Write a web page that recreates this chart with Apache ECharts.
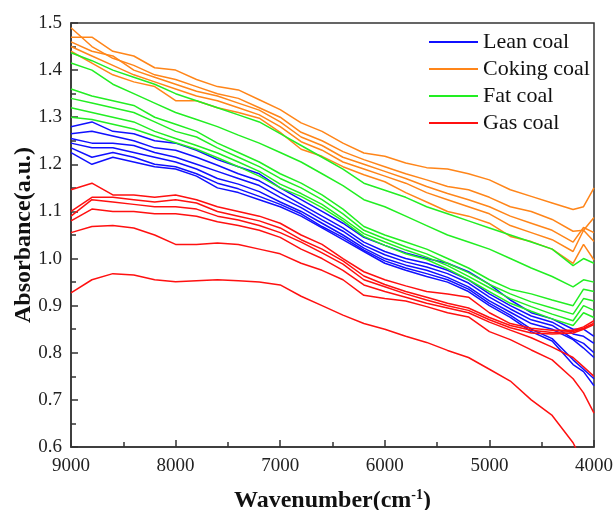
<!DOCTYPE html>
<html><head><meta charset="utf-8">
<script src="https://cdn.jsdelivr.net/npm/echarts@6/dist/echarts.min.js"></script>
<style>html,body{margin:0;padding:0;background:#fff}#c{width:616px;height:510px}</style>
</head><body><div id="c"></div>
<script>
// Wavenumber sample positions (cm-1)
const wavenumbers = [9000, 8800, 8600, 8400, 8200, 8000, 7800, 7600, 7400, 7200, 7000, 6800, 6600, 6400, 6200, 6000, 5800, 5600, 5400, 5200, 5000, 4800, 4600, 4400, 4200, 4100, 4000];

const categories = ['Lean coal', 'Coking coal', 'Fat coal', 'Gas coal'];

const leanCoal = [
  [1.28, 1.29, 1.27, 1.265, 1.25, 1.245, 1.23, 1.21, 1.195, 1.18, 1.15, 1.125, 1.10, 1.075, 1.045, 1.028, 1.012, 1.0, 0.99, 0.972, 0.945, 0.912, 0.885, 0.872, 0.85, 0.85, 0.835],
  [1.265, 1.27, 1.26, 1.25, 1.235, 1.23, 1.215, 1.198, 1.18, 1.165, 1.14, 1.115, 1.09, 1.065, 1.035, 1.015, 1.0, 0.99, 0.975, 0.955, 0.925, 0.9, 0.878, 0.865, 0.84, 0.835, 0.82],
  [1.255, 1.245, 1.245, 1.24, 1.225, 1.215, 1.2, 1.185, 1.17, 1.155, 1.13, 1.108, 1.082, 1.058, 1.028, 1.008, 0.993, 0.982, 0.968, 0.948, 0.918, 0.893, 0.87, 0.858, 0.83, 0.82, 0.80],
  [1.245, 1.235, 1.235, 1.225, 1.215, 1.205, 1.19, 1.17, 1.158, 1.142, 1.12, 1.1, 1.075, 1.05, 1.022, 1.0, 0.986, 0.975, 0.96, 0.94, 0.91, 0.886, 0.862, 0.85, 0.828, 0.81, 0.79],
  [1.235, 1.215, 1.225, 1.215, 1.2, 1.195, 1.18, 1.16, 1.148, 1.132, 1.115, 1.095, 1.068, 1.045, 1.018, 0.995, 0.98, 0.968, 0.955, 0.935, 0.905, 0.88, 0.85, 0.83, 0.785, 0.765, 0.745],
  [1.225, 1.2, 1.215, 1.205, 1.195, 1.19, 1.175, 1.15, 1.14, 1.125, 1.11, 1.09, 1.065, 1.04, 1.015, 0.99, 0.975, 0.962, 0.95, 0.93, 0.9, 0.875, 0.845, 0.825, 0.775, 0.76, 0.73]
];

const cokingCoal = [
  [1.47, 1.47, 1.44, 1.43, 1.405, 1.40, 1.38, 1.365, 1.358, 1.337, 1.316, 1.288, 1.27, 1.245, 1.224, 1.217, 1.203, 1.193, 1.19, 1.18, 1.167, 1.146, 1.132, 1.118, 1.104, 1.11, 1.15],
  [1.49, 1.45, 1.425, 1.41, 1.39, 1.38, 1.365, 1.35, 1.34, 1.32, 1.30, 1.268, 1.25, 1.227, 1.21, 1.195, 1.18, 1.167, 1.153, 1.146, 1.13, 1.11, 1.10, 1.083, 1.058, 1.06, 1.087],
  [1.46, 1.44, 1.43, 1.40, 1.385, 1.37, 1.355, 1.345, 1.33, 1.315, 1.29, 1.258, 1.24, 1.215, 1.20, 1.185, 1.17, 1.153, 1.138, 1.125, 1.11, 1.09, 1.075, 1.06, 1.035, 1.066, 1.055],
  [1.45, 1.43, 1.41, 1.39, 1.375, 1.36, 1.345, 1.335, 1.32, 1.305, 1.28, 1.248, 1.23, 1.205, 1.19, 1.175, 1.16, 1.14, 1.125, 1.11, 1.095, 1.07, 1.055, 1.04, 1.015, 1.06, 1.036],
  [1.44, 1.415, 1.39, 1.375, 1.365, 1.335, 1.335, 1.32, 1.31, 1.298, 1.268, 1.232, 1.217, 1.195, 1.178, 1.163, 1.14, 1.12, 1.10, 1.09, 1.075, 1.047, 1.036, 1.02, 0.99, 1.03, 0.997]
];

const fatCoal = [
  [1.437, 1.42, 1.40, 1.385, 1.37, 1.35, 1.335, 1.32, 1.305, 1.29, 1.265, 1.24, 1.215, 1.19, 1.16, 1.145, 1.13, 1.11, 1.095, 1.08, 1.065, 1.05, 1.035, 1.02, 0.985, 1.0, 0.99],
  [1.415, 1.40, 1.37, 1.35, 1.33, 1.31, 1.295, 1.28, 1.262, 1.245, 1.225, 1.205, 1.18, 1.155, 1.125, 1.11, 1.09, 1.07, 1.05, 1.035, 1.02, 1.0, 0.98, 0.962, 0.94, 0.955, 0.95],
  [1.36, 1.345, 1.335, 1.325, 1.30, 1.285, 1.27, 1.245, 1.225, 1.205, 1.18, 1.16, 1.135, 1.105, 1.068, 1.05, 1.035, 1.02, 1.0, 0.98, 0.955, 0.935, 0.925, 0.912, 0.9, 0.935, 0.93],
  [1.34, 1.33, 1.32, 1.31, 1.29, 1.27, 1.258, 1.235, 1.215, 1.195, 1.17, 1.15, 1.125, 1.095, 1.06, 1.042, 1.025, 1.01, 0.99, 0.97, 0.945, 0.925, 0.908, 0.895, 0.882, 0.915, 0.91],
  [1.32, 1.31, 1.30, 1.29, 1.27, 1.255, 1.24, 1.224, 1.205, 1.185, 1.158, 1.138, 1.115, 1.085, 1.053, 1.035, 1.018, 1.003, 0.985, 0.962, 0.938, 0.915, 0.898, 0.882, 0.868, 0.9, 0.89],
  [1.30, 1.295, 1.285, 1.275, 1.26, 1.246, 1.232, 1.214, 1.195, 1.175, 1.15, 1.132, 1.108, 1.08, 1.047, 1.028, 1.01, 0.998, 0.978, 0.955, 0.93, 0.905, 0.888, 0.872, 0.858, 0.885, 0.875]
];

const gasCoal = [
  [1.146, 1.16, 1.135, 1.135, 1.13, 1.135, 1.125, 1.11, 1.10, 1.09, 1.075, 1.05, 1.03, 1.0, 0.972, 0.955, 0.942, 0.93, 0.925, 0.918, 0.885, 0.862, 0.852, 0.848, 0.848, 0.855, 0.868],
  [1.10, 1.13, 1.13, 1.125, 1.12, 1.125, 1.118, 1.10, 1.09, 1.08, 1.065, 1.04, 1.02, 0.995, 0.963, 0.945, 0.93, 0.918, 0.905, 0.895, 0.875, 0.858, 0.848, 0.843, 0.845, 0.852, 0.863],
  [1.09, 1.125, 1.12, 1.115, 1.11, 1.11, 1.105, 1.09, 1.082, 1.07, 1.055, 1.035, 1.012, 0.988, 0.955, 0.94, 0.925, 0.912, 0.9, 0.89, 0.87, 0.853, 0.842, 0.84, 0.842, 0.85, 0.86],
  [1.08, 1.105, 1.10, 1.10, 1.095, 1.095, 1.09, 1.078, 1.07, 1.06, 1.045, 1.02, 1.0, 0.975, 0.944, 0.93, 0.918, 0.905, 0.895, 0.885, 0.865, 0.848, 0.832, 0.812, 0.79, 0.77, 0.75],
  [1.055, 1.068, 1.07, 1.065, 1.05, 1.03, 1.03, 1.033, 1.03, 1.02, 1.01, 0.99, 0.975, 0.955, 0.922, 0.915, 0.91, 0.898, 0.885, 0.876, 0.845, 0.828, 0.806, 0.785, 0.745, 0.715, 0.672],
  [0.927, 0.955, 0.968, 0.965, 0.955, 0.951, 0.953, 0.955, 0.953, 0.95, 0.944, 0.92, 0.9, 0.88, 0.862, 0.85, 0.835, 0.822, 0.805, 0.79, 0.765, 0.74, 0.70, 0.667, 0.609, 0.565, null]
];

const xRange = [4000, 9000, 1000];
const yRange = [0.6, 1.5, 0.1];

const colors = ['#1010ff', '#ff8519', '#22ee22', '#ff1010'];
const groups = [leanCoal, cokingCoal, fatCoal, gasCoal];

const FONT = 'Liberation Serif';
const series = [];
groups.forEach((lines, gi) => {
  lines.forEach(vals => {
    series.push({
      type: 'line',
      name: categories[gi],
      data: wavenumbers.map((w, i) => [w, vals[i]]).filter(p => p[1] !== null),
      symbol: 'none',
      showSymbol: false,
      clip: true,
      silent: true,
      lineStyle: { width: 1.5, color: colors[gi] },
      itemStyle: { color: colors[gi] }
    });
  });
});

const chart = echarts.init(document.getElementById('c'), null, { renderer: 'canvas' });
const axisCol = '#333';
chart.setOption({
  animation: false,
  backgroundColor: '#fff',
  grid: { left: 71, right: 22, top: 23, bottom: 63, containLabel: false, outerBoundsMode: 'none', show: true, borderColor: axisCol, borderWidth: 1.5, backgroundColor: 'transparent' },
  legend: {
    orient: 'vertical', left: 429, top: 31, padding: 0,
    itemWidth: 49, itemHeight: 2, icon: 'rect', itemGap: 5,
    textStyle: { fontFamily: FONT, fontSize: 22, color: '#111' },
    data: categories
  },
  xAxis: {
    type: 'value', min: xRange[0], max: xRange[1], interval: xRange[2], inverse: true,
    axisLine: { show: true, lineStyle: { color: axisCol, width: 1.5 } },
    axisTick: { show: true, inside: true, length: 7, lineStyle: { color: axisCol, width: 1.5 } },
    minorTick: { show: true, splitNumber: 2, length: 5, lineStyle: { color: axisCol, width: 1.5 } },
    splitLine: { show: false },
    axisLabel: { fontFamily: FONT, fontSize: 19, color: '#222', margin: 10, formatter: v => String(v) },
    name: '{a|Wavenumber(cm}{s|-1}{a|)}',
    nameLocation: 'middle', nameGap: 41, nameMoveOverlap: false,
    nameTextStyle: {
      rich: {
        a: { fontFamily: FONT, fontSize: 24, fontWeight: 'bold', color: '#111' },
        s: { fontFamily: FONT, fontSize: 14, fontWeight: 'bold', color: '#111', padding: [0, 0, 12, 0] }
      }
    }
  },
  yAxis: {
    type: 'value', min: yRange[0], max: yRange[1], interval: yRange[2],
    axisLine: { show: true, lineStyle: { color: axisCol, width: 1.5 } },
    axisTick: { show: true, inside: true, length: 7, lineStyle: { color: axisCol, width: 1.5 } },
    minorTick: { show: true, splitNumber: 2, length: 5, lineStyle: { color: axisCol, width: 1.5 } },
    splitLine: { show: false },
    axisLabel: { fontFamily: FONT, fontSize: 19, color: '#222', margin: 9, formatter: v => v.toFixed(1) },
    name: 'Absorbance(a.u.)',
    nameLocation: 'middle', nameGap: 35, nameMoveOverlap: false,
    nameTextStyle: { fontFamily: FONT, fontSize: 24, fontWeight: 'bold', color: '#111' }
  },
  series: series
});
</script>
</body></html>
